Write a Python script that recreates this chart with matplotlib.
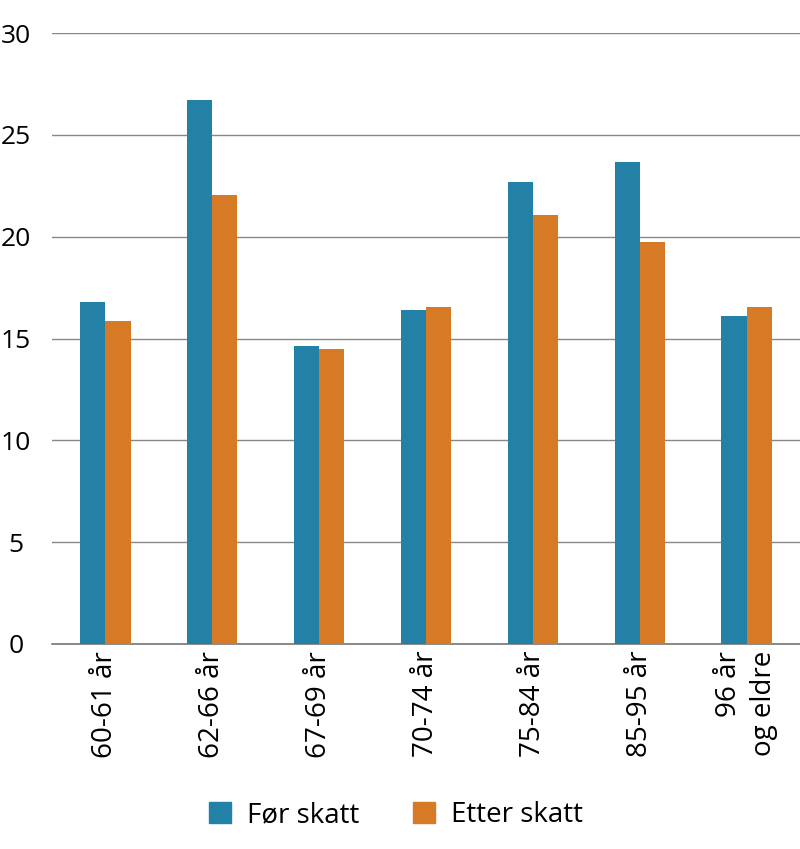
import numpy as np
import matplotlib.pyplot as plt
from matplotlib.patches import Patch

plt.rcParams["font.family"] = ["Open Sans", "DejaVu Sans"]

categories = ["60-61 år", "62-66 år", "67-69 år", "70-74 år", "75-84 år", "85-95 år", "96 år\nog eldre"]
for_skatt = [16.8, 26.7, 14.65, 16.4, 22.7, 23.65, 16.1]
etter_skatt = [15.85, 22.05, 14.5, 16.55, 21.05, 19.75, 16.55]
yticks = [0, 5, 10, 15, 20, 25, 30]

blue = "#2381a8"
orange = "#d77a26"

fig = plt.figure(figsize=(8, 8.49), dpi=100)
ax = fig.add_axes([0.065, 0.2415, 0.935, 0.7195])

x = np.arange(len(categories))
w = 0.235
ax.bar(x - w / 2, for_skatt, width=w, color=blue, zorder=3)
ax.bar(x + w / 2, etter_skatt, width=w, color=orange, zorder=3)

ax.set_xlim(-0.5, len(categories) - 0.5)
ax.set_ylim(0, 30)
ax.set_yticks(yticks)
ax.set_yticklabels([str(v) for v in yticks], ha="center")
ax.tick_params(axis="y", length=0, pad=26, labelsize=19)
ax.tick_params(axis="x", length=0, pad=5, labelsize=20)
ax.set_xticks(x)
ax.set_xticklabels(categories, rotation=90, va="top", ha="center",
                   multialignment="right", linespacing=1.3)

ax.grid(axis="y", color="#888888", linewidth=1.0, zorder=0)
for s in ["left", "right", "top"]:
    ax.spines[s].set_visible(False)
ax.spines["bottom"].set_color("#777777")
ax.spines["bottom"].set_linewidth(1.2)

handles = [Patch(color=blue, label="Før skatt"), Patch(color=orange, label="Etter skatt")]
fig.legend(handles=handles, loc="center", bbox_to_anchor=(0.495, 0.04), ncol=2,
           frameon=False, fontsize=20, handlelength=0.8, handleheight=0.8,
           handletextpad=0.6, columnspacing=1.9)

fig.savefig("out.png", dpi=100)
